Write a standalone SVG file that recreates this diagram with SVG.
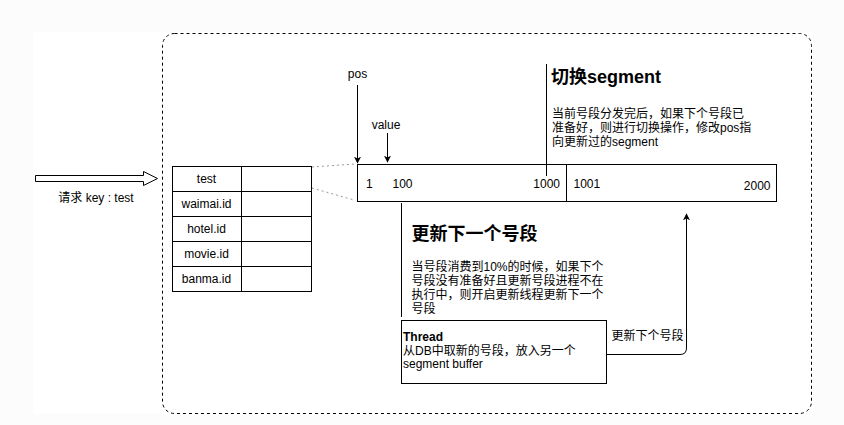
<svg xmlns="http://www.w3.org/2000/svg" width="844" height="425" viewBox="0 0 844 425">
<style>
text{font-family:"Liberation Sans","Noto Sans CJK SC",Arial,sans-serif;font-size:12px;fill:#000}
.c{text-anchor:middle}
.e{text-anchor:end}
.b{font-weight:bold}
.t{font-size:18px;font-weight:bold}
.box{fill:#fff;stroke:#000;stroke-width:1}
.ln{fill:none;stroke:#000;stroke-width:1}
.dot{fill:none;stroke:#999;stroke-width:1;stroke-dasharray:2 3}
</style>
<defs>
<marker id="ah" viewBox="0 0 10 10" refX="9" refY="5" markerWidth="7" markerHeight="7" markerUnits="userSpaceOnUse" orient="auto">
<path d="M0,0 L10,5 L0,10 L2.5,5 Z" fill="#000"/>
</marker>
</defs>
<rect x="0" y="0" width="844" height="425" fill="#fcfcfc"/>
<rect x="33" y="32" width="780" height="382" fill="#fff"/>

<g id="container">
<rect x="162.5" y="33.5" width="649" height="380" rx="12" ry="12" fill="none" stroke="#000" stroke-width="1" stroke-dasharray="3 3"/>
</g>

<g id="request">
<path d="M35.5,175.5 H143.5 V171.5 L157.5,178.5 L143.5,185.5 V181.5 H35.5 Z" fill="#fff" stroke="#000" stroke-width="1"/>
<text x="96" y="202" class="c">请求 key : test</text>
</g>

<g id="table">
<rect class="box" x="172.5" y="166.5" width="139" height="125"/>
<path class="ln" d="M241.5,166.5 V291.5 M172.5,191.5 H311.5 M172.5,216.5 H311.5 M172.5,241.5 H311.5 M172.5,266.5 H311.5"/>
<text x="206.5" y="183" class="c">test</text>
<text x="206.5" y="208" class="c">waimai.id</text>
<text x="206.5" y="233" class="c">hotel.id</text>
<text x="206.5" y="258" class="c">movie.id</text>
<text x="206.5" y="283" class="c">banma.id</text>
</g>

<g id="segment">
<rect class="box" x="357.5" y="164.5" width="419" height="37"/>
<path class="ln" d="M566.5,164.5 V201.5"/>
<text x="366" y="188">1</text>
<text x="392.5" y="188">100</text>
<text x="560" y="188" class="e">1000</text>
<text x="573.5" y="188">1001</text>
<text x="770.5" y="190" class="e">2000</text>
</g>

<g id="pos">
<text x="357.5" y="78" class="c">pos</text>
</g>
<g id="value">
<text x="386" y="129" class="c">value</text>
</g>

<g id="switch-note">
<text x="551" y="83" class="t">切换segment</text>
<text x="552" y="118">当前号段分发完后，如果下个号段已</text>
<text x="552" y="132">准备好，则进行切换操作，修改pos指</text>
<text x="552" y="146">向更新过的segment</text>
</g>

<g id="update-note">
<text x="411.5" y="240" class="t">更新下一个号段</text>
<text x="411.5" y="271">当号段消费到10%的时候，如果下个</text>
<text x="411.5" y="285">号段没有准备好且更新号段进程不在</text>
<text x="411.5" y="299">执行中，则开启更新线程更新下一个</text>
<text x="411.5" y="313">号段</text>
</g>

<g id="thread">
<rect class="box" x="401.5" y="320.5" width="205" height="63"/>
<text x="403" y="341" class="b">Thread</text>
<text x="403" y="355">从DB中取新的号段，放入另一个</text>
<text x="403" y="368">segment buffer</text>
</g>

<g id="connectors">
<path class="dot" d="M312,167 L355,164"/>
<path class="dot" d="M312,188 L354,200"/>
<path class="ln" d="M357.5,85 V163" marker-end="url(#ah)"/>
<path class="ln" d="M387.5,133 V162" marker-end="url(#ah)"/>
<path class="ln" d="M546.5,64 V176"/>
<path class="ln" d="M401.5,203 V317"/>
<path class="ln" d="M606.5,354.5 H680 Q686.5,354.5 686.5,348 V214" marker-end="url(#ah)"/>
<text x="611.5" y="340">更新下个号段</text>
</g>
</svg>
